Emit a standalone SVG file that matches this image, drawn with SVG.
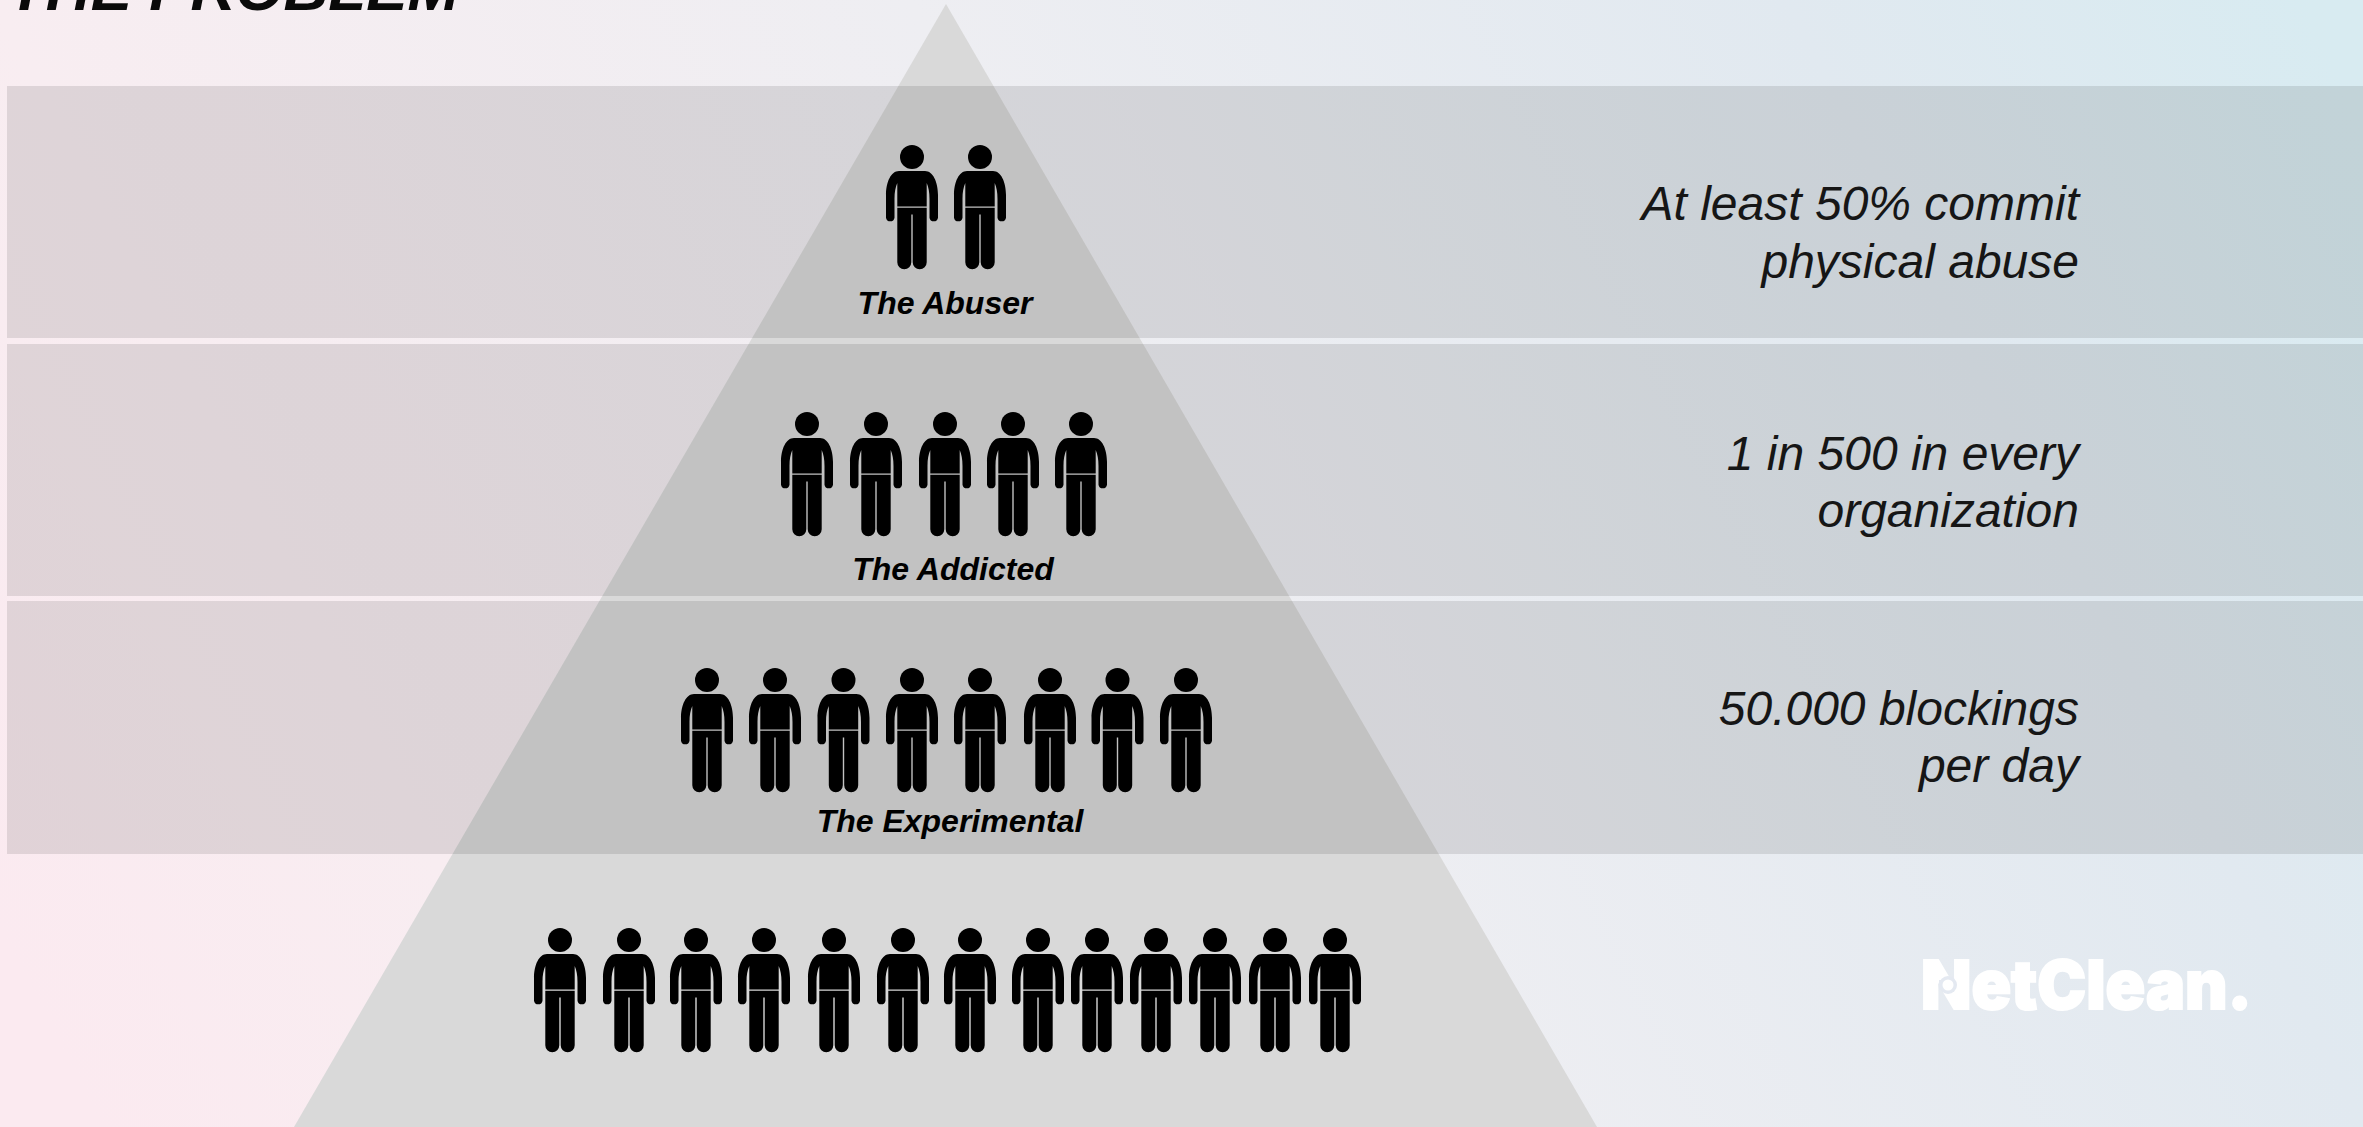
<svg xmlns="http://www.w3.org/2000/svg" width="2363" height="1127" viewBox="0 0 2363 1127">
<style>
.t{font-family:"Liberation Sans",Arial,sans-serif;font-style:italic}
.lab{font-size:32px;font-weight:700;fill:#000;text-anchor:middle}
.val{font-size:48px;fill:#161616;text-anchor:end}
.band{fill:#000;fill-opacity:.1}
</style>
<defs>
<linearGradient id="bg" gradientUnits="userSpaceOnUse" x1="100" y1="1127" x2="2300" y2="0">
<stop offset="0" stop-color="#fbeaf0"/><stop offset=".17" stop-color="#f8edf1"/><stop offset=".5" stop-color="#eeeef2"/><stop offset=".815" stop-color="#e1e9f0"/><stop offset="1" stop-color="#d8ebf1"/>
</linearGradient>
<symbol id="p" overflow="visible">
<circle cx="0" cy="12" r="12"/>
<path d="M-13 26H13C21 26 26 37 26 50V72.700A4.300 4.300 0 0 1 17.500 72.700V54C17.500 47 16.500 42 14.700 38V61.400H-14.700V38C-16.500 42-17.500 47-17.500 54V72.700A4.300 4.300 0 0 1-26 72.700V50C-26 37-21 26-13 26Z"/>
<path d="M-14.700 62.700H14.700V117.300A7 7 0 0 1 .7 117.300V69.500H-.7V117.300A7 7 0 0 1-14.700 117.300Z"/>
</symbol>
</defs>
<rect id="background" width="2363" height="1127" fill="url(#bg)"/>
<text id="title" class="t" x="8" y="10" font-size="62" font-weight="700" fill="#0a0a0a">THE PROBLEM</text>
<polygon id="pyramid" points="946,4 1597,1127 294,1127" fill="#d9d9d9"/>
<g id="bands"><rect class="band" x="7" y="86" width="2356" height="252"/><rect class="band" x="7" y="344" width="2356" height="252"/><rect class="band" x="7" y="601" width="2356" height="253"/></g>
<g id="connectors"/>
<g id="row1"><use href="#p" x="912" y="145"/><use href="#p" x="980" y="145"/></g>
<g id="row2"><use href="#p" x="807" y="412"/><use href="#p" x="876" y="412"/><use href="#p" x="945" y="412"/><use href="#p" x="1013" y="412"/><use href="#p" x="1081" y="412"/></g>
<g id="row3"><use href="#p" x="707" y="668"/><use href="#p" x="775" y="668"/><use href="#p" x="843.500" y="668"/><use href="#p" x="912" y="668"/><use href="#p" x="980" y="668"/><use href="#p" x="1050" y="668"/><use href="#p" x="1117.500" y="668"/><use href="#p" x="1186" y="668"/></g>
<g id="row4"><use href="#p" x="560" y="928"/><use href="#p" x="629" y="928"/><use href="#p" x="696" y="928"/><use href="#p" x="764" y="928"/><use href="#p" x="834" y="928"/><use href="#p" x="903" y="928"/><use href="#p" x="970" y="928"/><use href="#p" x="1038" y="928"/><use href="#p" x="1097" y="928"/><use href="#p" x="1156" y="928"/><use href="#p" x="1215" y="928"/><use href="#p" x="1275" y="928"/><use href="#p" x="1335" y="928"/></g>
<text id="l1" class="t lab" x="945" y="314">The Abuser</text>
<text id="l2" class="t lab" x="953" y="580">The Addicted</text>
<text id="l3" class="t lab" x="950" y="832">The Experimental</text>
<g id="values">
<text class="t val" x="2079" y="220">At least 50% commit</text><text class="t val" x="2079" y="278">physical abuse</text>
<text class="t val" x="2079" y="470">1 in 500 in every</text><text class="t val" x="2079" y="527">organization</text>
<text class="t val" x="2079" y="725">50.000 blockings</text><text class="t val" x="2079" y="782">per day</text>
</g>
<g id="logo"><text x="1921" y="1009" font-family="Inter,Roboto,sans-serif" font-weight="900" font-size="68" fill="#fff" stroke="#fff" stroke-width="2" textLength="331" lengthAdjust="spacingAndGlyphs">NetClean.</text>
<path d="M1939 980H1948V990H1939Z" fill="#e4e9f1"/><circle cx="1948" cy="985" r="9" fill="#e4e9f1"/><circle cx="1948" cy="985" r="5.500" fill="#fff"/></g>
</svg>
